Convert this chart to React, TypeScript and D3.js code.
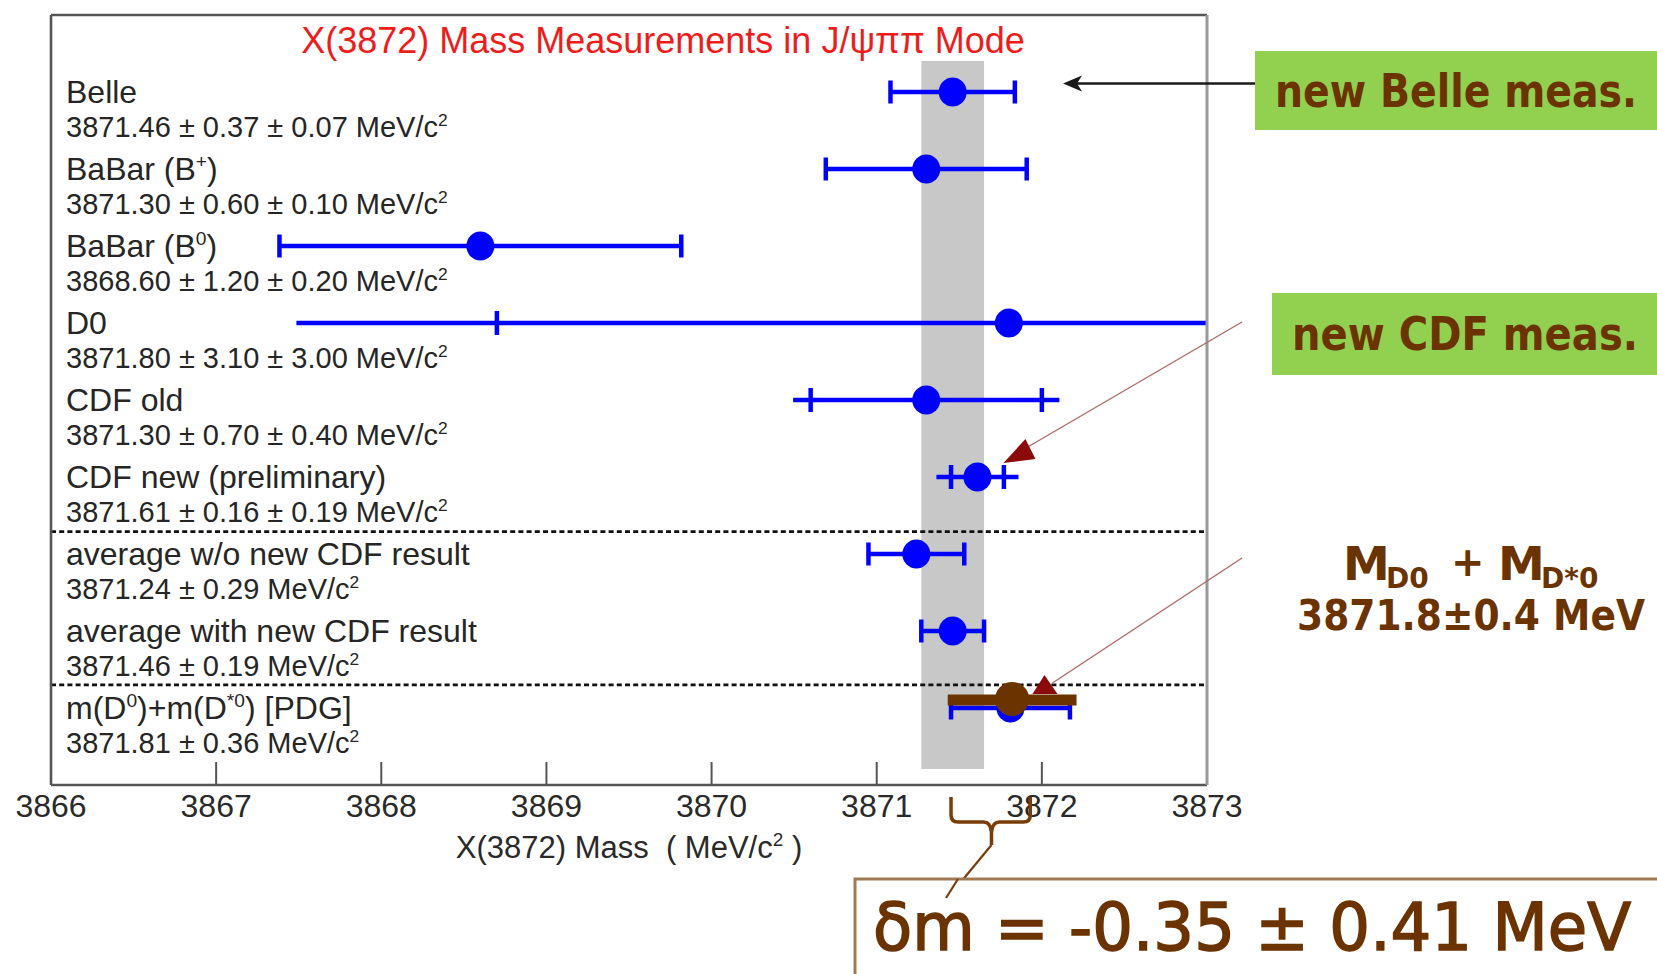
import React from "react";
import * as d3 from "d3";

// ---------- data ----------
const names = [
  "Belle",
  "BaBar (B^{+})",
  "BaBar (B^{0})",
  "D0",
  "CDF old",
  "CDF new (preliminary)",
  "average w/o new CDF result",
  "average with new CDF result",
  "m(D^{0})+m(D^{*0}) [PDG]",
];
const masses = [3871.46, 3871.3, 3868.6, 3871.8, 3871.3, 3871.61, 3871.24, 3871.46, 3871.81];
const statErr = [0.37, 0.6, 1.2, 3.1, 0.7, 0.16, 0.29, 0.19, 0.36];
const sysErr: (number | null)[] = [0.07, 0.1, 0.2, 3.0, 0.4, 0.19, null, null, null];
// "cap": end caps at total error; "tick": line to total error with crossing ticks at stat error
const barStyle = ["cap", "cap", "cap", "tick", "tick", "tick", "cap", "cap", "cap"];
const xTicks = [3866, 3867, 3868, 3869, 3870, 3871, 3872, 3873];
const separators = [5.71, 7.7]; // dashed lines between row groups (row units)
const bandIndex = 7; // grey band = average with new CDF result
const pdgOverlay = { mass: 3871.82, err: 0.39 }; // M_D0 + M_D*0 = 3871.8 ± 0.4
const braceRange = [3871.45, 3871.93];

const title = "X(3872) Mass Measurements in J/\u03c8\u03c0\u03c0 Mode";

// ---------- helpers ----------
const FONT = "'Liberation Sans', Arial, Helvetica, sans-serif";
const ANN_FONT = "'DejaVu Sans', 'Comic Sans MS', sans-serif";

function rich(str: string, size: number) {
  const parts = str.split(/\^\{([^}]*)\}/);
  const out: any[] = [];
  let raised = false;
  parts.forEach((p, i) => {
    if (i % 2 === 1) {
      out.push(
        <tspan key={i} dy={-size * 0.38} fontSize={size * 0.6}>
          {p}
        </tspan>
      );
      raised = true;
    } else {
      if (p === "") return;
      out.push(
        <tspan key={i} dy={raised ? size * 0.38 : undefined} fontSize={size}>
          {p}
        </tspan>
      );
      raised = false;
    }
  });
  return out;
}

export default function App() {
  const W = 1657;
  const H = 974;
  const x = d3.scaleLinear().domain([3866, 3873]).range([51, 1207]);
  const y = d3.scaleLinear().domain([0, 8]).range([92, 708]);
  const top = 15;
  const bottom = 785;
  const blue = "#0000ff";
  const brown = "#6b3300";

  const rows = names.map((n, i) => {
    const st = statErr[i];
    const sy = sysErr[i];
    const tot = sy == null ? st : Math.sqrt(st * st + sy * sy);
    const val =
      masses[i].toFixed(2) +
      " \u00b1 " +
      st.toFixed(2) +
      (sy == null ? "" : " \u00b1 " + sy.toFixed(2)) +
      " MeV/c^{2}";
    return { name: n, m: masses[i], st, tot, val, style: barStyle[i], i };
  });

  const band = [masses[bandIndex] - statErr[bandIndex], masses[bandIndex] + statErr[bandIndex]];

  const by0 = y(0) - 9;
  const cdfY = y(5);
  const cdfX = x(masses[5]);
  const pdgY = y(8);
  const pdgX = x(masses[8]);

  const bx0 = x(braceRange[0]);
  const bx1 = x(braceRange[1]);
  const bmid = x(masses[8]) - 20;

  const annProps = { fontWeight: "bold", fill: brown, fontFamily: ANN_FONT } as any;

  return (
    <svg
      width={W}
      height={H}
      style={{ position: "absolute", left: 0, top: 0, background: "#fff" }}
      fontFamily={FONT}
    >
      <defs>
        <clipPath id="plotclip">
          <rect x={x(3866)} y={top} width={x(3873) - x(3866)} height={bottom - top} />
        </clipPath>
      </defs>
      <rect x={0} y={0} width={W} height={H} fill="#fff" />

      {/* grey band */}
      <rect x={x(band[0])} y={61} width={x(band[1]) - x(band[0])} height={769 - 61} fill="#c8c8c8" />

      {/* ticks */}
      {xTicks.map((t) => (
        <g key={t}>
          <line x1={x(t)} x2={x(t)} y1={bottom} y2={bottom - 23} stroke="#555" strokeWidth={2} />
          <text x={x(t)} y={817} fontSize={32} textAnchor="middle" fill="#2a2a2a">
            {d3.format("d")(t)}
          </text>
        </g>
      ))}

      {/* separators */}
      {separators.map((s, k) => (
        <line
          key={k}
          x1={x(3866)}
          x2={x(3873)}
          y1={y(s)}
          y2={y(s)}
          stroke="#111"
          strokeWidth={2.6}
          strokeDasharray="5,3.2"
        />
      ))}

      {/* title */}
      <text x={663} y={53} fontSize={36} textAnchor="middle" fill="#f01c1c">
        {title}
      </text>

      {/* labels */}
      {rows.map((r) => (
        <g key={"l" + r.i} fill="#262626">
          <text x={66} y={y(r.i) + 11} fontSize={32}>
            {rich(r.name, 32)}
          </text>
          <text x={66} y={y(r.i) + 45} fontSize={29}>
            {rich(r.val, 29)}
          </text>
        </g>
      ))}

      {/* error bars */}
      <g clipPath="url(#plotclip)">
        {rows.map((r) => {
          const yy = y(r.i);
          const lo = x(r.m - r.tot);
          const hi = x(r.m + r.tot);
          return (
            <g key={"e" + r.i} stroke={blue} strokeWidth={4.5}>
              <line x1={lo} x2={hi} y1={yy} y2={yy} />
              {r.style === "cap" ? (
                <>
                  <line x1={lo} x2={lo} y1={yy - 11.5} y2={yy + 11.5} />
                  <line x1={hi} x2={hi} y1={yy - 11.5} y2={yy + 11.5} />
                </>
              ) : (
                <>
                  <line x1={x(r.m - r.st)} x2={x(r.m - r.st)} y1={yy - 12} y2={yy + 12} />
                  <line x1={x(r.m + r.st)} x2={x(r.m + r.st)} y1={yy - 12} y2={yy + 12} />
                </>
              )}
              <ellipse cx={x(r.m)} cy={yy} rx={14} ry={14.5} fill={blue} stroke="none" />
            </g>
          );
        })}
        {/* PDG overlay in brown */}
        <line
          x1={x(pdgOverlay.mass - pdgOverlay.err)}
          x2={x(pdgOverlay.mass + pdgOverlay.err)}
          y1={pdgY - 8}
          y2={pdgY - 8}
          stroke={brown}
          strokeWidth={11}
        />
        <circle cx={x(pdgOverlay.mass)} cy={pdgY - 9} r={17} fill={brown} />
      </g>

      {/* frame */}
      <line x1={x(3866)} x2={x(3873)} y1={top} y2={top} stroke="#555" strokeWidth={2.6} />
      <line x1={x(3866)} x2={x(3866)} y1={top} y2={bottom} stroke="#555" strokeWidth={2.6} />
      <line x1={x(3866)} x2={x(3873)} y1={bottom} y2={bottom} stroke="#555" strokeWidth={2.6} />
      <line x1={x(3873)} x2={x(3873)} y1={top} y2={bottom} stroke="#999" strokeWidth={3} />

      {/* axis title */}
      <text x={629} y={858} fontSize={31} textAnchor="middle" fill="#2a2a2a" style={{ whiteSpace: "pre" }}>
        <tspan>{"X(3872) Mass  ( MeV/c"}</tspan>
        <tspan dy={-12} fontSize={19}>
          2
        </tspan>
        <tspan dy={12}>{" )"}</tspan>
      </text>

      {/* ---------- annotations ---------- */}
      {/* new Belle */}
      <rect x={1255} y={51} width={420} height={79} fill="#92d050" />
      <text x={1275} y={107} fontSize={46} {...annProps} textLength={362} lengthAdjust="spacingAndGlyphs">
        new Belle meas.
      </text>
      <line x1={1255} x2={1070} y1={by0 + 0.5} y2={by0 + 0.5} stroke="#1a1a1a" strokeWidth={2.5} />
      <path
        d={`M${1063},${by0 + 0.5} L${1082},${by0 - 7.5} L${1077},${by0 + 0.5} L${1082},${by0 + 8.5} Z`}
        fill="#1a1a1a"
      />

      {/* new CDF */}
      <rect x={1272} y={293} width={400} height={82} fill="#92d050" />
      <text x={1292} y={350} fontSize={46} {...annProps} textLength={346} lengthAdjust="spacingAndGlyphs">
        new CDF meas.
      </text>
      <line x1={1242} y1={322} x2={cdfX + 40} y2={cdfY - 24} stroke="#b06a6a" strokeWidth={1.4} />
      <path
        d={`M${cdfX + 26},${cdfY - 14} L${cdfX + 48},${cdfY - 38} L${cdfX + 58},${cdfY - 18} Z`}
        fill="#8b0a0a"
      />

      {/* M_D0 + M_D*0 */}
      <text x={1343} y={580} fontSize={47} {...annProps}>M</text>
      <text x={1386} y={588} fontSize={28} {...annProps}>D0</text>
      <text x={1451} y={576} fontSize={40} {...annProps}>+</text>
      <text x={1498} y={580} fontSize={47} {...annProps}>M</text>
      <text x={1541} y={588} fontSize={28} {...annProps}>D*0</text>
      <text x={1297} y={630} fontSize={42} {...annProps} textLength={348} lengthAdjust="spacingAndGlyphs">
        3871.8±0.4 MeV
      </text>
      <line x1={1242} y1={558} x2={pdgX + 42} y2={pdgY - 25} stroke="#b06a6a" strokeWidth={1.4} />
      <path
        d={`M${pdgX + 34},${pdgY - 33} L${pdgX + 22},${pdgY - 14} L${pdgX + 47},${pdgY - 14} Z`}
        fill="#8b0a0a"
      />

      {/* brace */}
      <path
        d={`M${bx0},797 L${bx0},815 Q${bx0},822 ${bx0 + 7},822 L${bmid - 7},822 Q${bmid},822 ${bmid + 1},832 L${bmid + 1},845 M${bmid + 1},832 Q${bmid + 2},822 ${bmid + 9},822 L${bx1 - 7},822 Q${bx1},822 ${bx1},815 L${bx1},797`}
        fill="none"
        stroke="#7a3d0a"
        strokeWidth={3.5}
      />
      <line x1={bmid + 1} y1={845} x2={946} y2={900} stroke="#7a3d0a" strokeWidth={2.2} />

      {/* delta m box */}
      <rect x={855} y={879} width={820} height={120} fill="#fff" stroke="#a07a55" strokeWidth={3} />
      <line x1={958} y1={879} x2={946} y2={898} stroke="#7a3d0a" strokeWidth={2.2} />
      <text
        x={873}
        y={950}
        fontSize={66}
        fill={brown}
        stroke={brown}
        strokeWidth={1.6}
        fontFamily={ANN_FONT}
        textLength={758}
        lengthAdjust="spacingAndGlyphs"
      >
        δm = -0.35 ± 0.41 MeV
      </text>
    </svg>
  );
}
